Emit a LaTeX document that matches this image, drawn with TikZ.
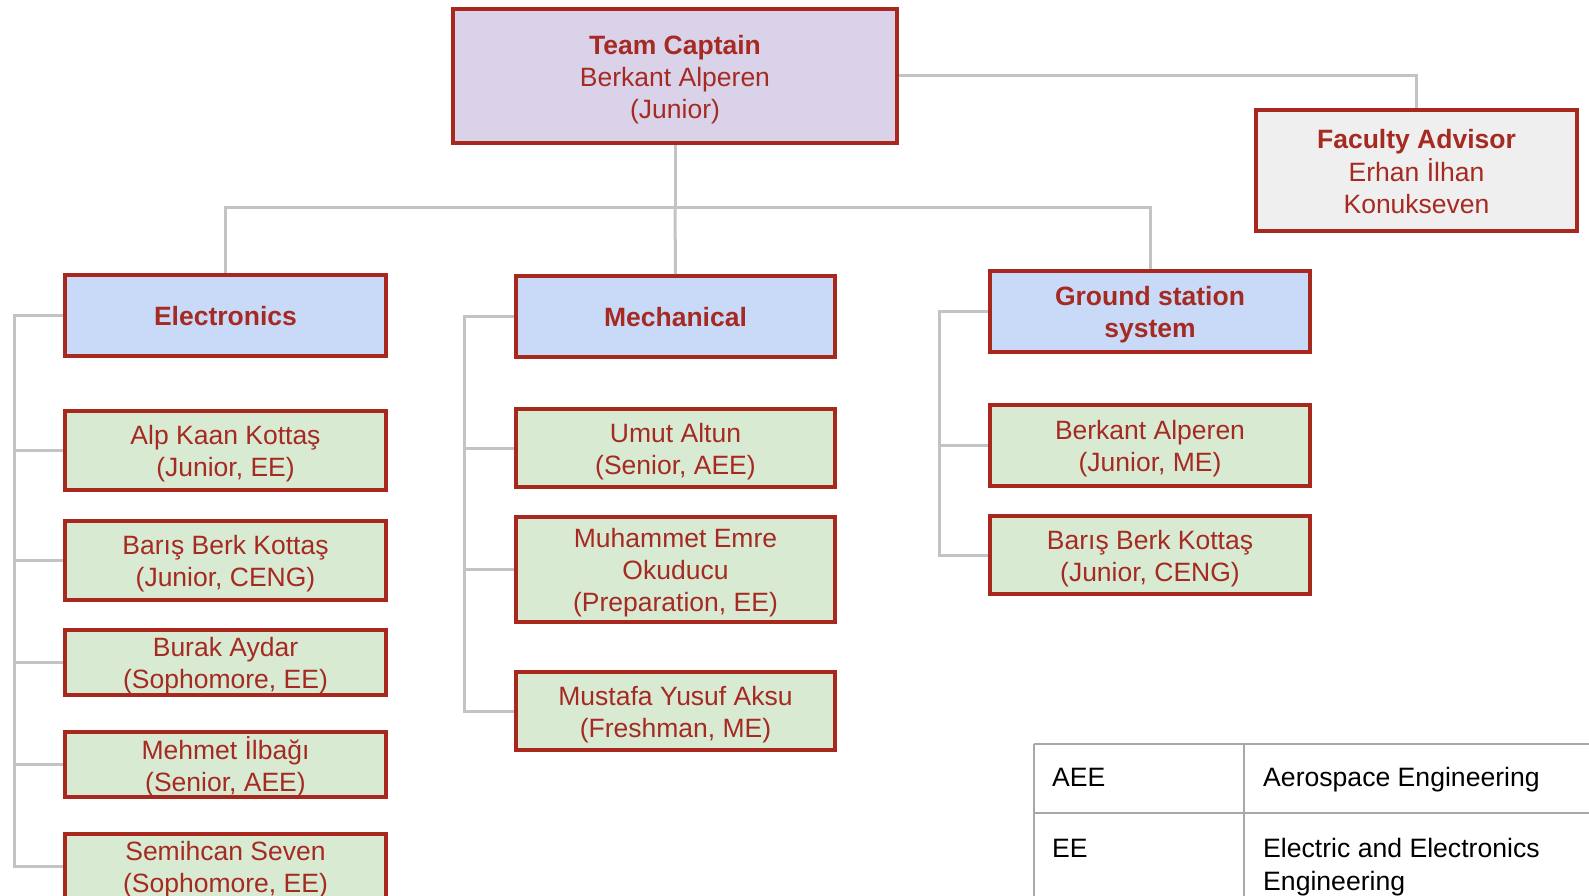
\documentclass[tikz,border=0pt]{standalone}
\usepackage{fontspec}
\setmainfont{Liberation Sans}
\definecolor{bord}{HTML}{A8281E}
\definecolor{txtc}{HTML}{A52A22}
\definecolor{capfill}{HTML}{D9D2E9}
\definecolor{facfill}{HTML}{EFEFEF}
\definecolor{deptfill}{HTML}{C9DAF8}
\definecolor{memfill}{HTML}{D9EAD3}
\definecolor{connc}{HTML}{C3C3C3}
\definecolor{tabline}{HTML}{A8A8A8}
\newcommand{\fsz}{\fontsize{26.5}{32}\selectfont}
\newcommand{\tabsz}{\fontsize{26.6}{32}\selectfont}
\newcommand{\bx}[1]{\raisebox{0pt}[\dimexpr\height+4pt\relax][\dimexpr\depth-4pt\relax]{\begin{tabular}{@{}c@{}}#1\end{tabular}}}
\begin{document}
\begin{tikzpicture}[x=1pt,y=-1pt,
  box/.style={draw=bord, line width=4pt, text=txtc, font=\fsz, inner sep=0pt, minimum width=#1},
  box/.default=321pt,
  capbox/.style={box=444pt, fill=capfill},
  facbox/.style={box=321pt, fill=facfill},
  deptbox/.style={box=321pt, fill=deptfill, font=\fsz\bfseries},
  membox/.style={box=321pt, fill=memfill},
  conn/.style={draw=connc, line width=3pt},
  tabl/.style={draw=tabline, line width=1.6pt},
  tabtxt/.style={font=\tabsz, text=black, inner sep=0pt, anchor=base west}
]
\useasboundingbox (0,0) rectangle (1589,896);
\clip (0,0) rectangle (1589,896);

\coordinate (j) at (675,207);
\coordinate (eb) at (14,0);
\coordinate (mb) at (464,0);
\coordinate (gb) at (939,0);

% top level
\node[capbox, minimum height=134pt] (cap) at (675,76) {\bx{\textbf{Team Captain}\\Berkant Alperen\\(Junior)}};
\node[facbox, minimum height=121pt] (fac) at (1416.5,170.5) {\bx{\textbf{Faculty Advisor}\\Erhan İlhan\\Konukseven}};

% departments
\node[deptbox, minimum height=81pt] (elec) at (225.5,315.5) {\bx{Electronics}};
\node[deptbox, minimum width=319pt, minimum height=81pt] (mech) at (675.5,316.5) {\bx{Mechanical}};
\node[deptbox, minimum width=320pt, minimum height=81pt] (gs) at (1150,311.5) {\bx{Ground station\\system}};

% electronics members
\node[membox, minimum height=79pt] (e1) at (225.5,450.5) {\bx{Alp Kaan Kottaş\\(Junior, EE)}};
\node[membox, minimum height=79pt] (e2) at (225.5,560.5) {\bx{Barış Berk Kottaş\\(Junior, CENG)}};
\node[membox, minimum height=65pt] (e3) at (225.5,662.5) {\bx{Burak Aydar\\(Sophomore, EE)}};
\node[membox, minimum height=65pt] (e4) at (225.5,764.5) {\bx{Mehmet İlbağı\\(Senior, AEE)}};
\node[membox, minimum height=65pt] (e5) at (225.5,866.5) {\bx{Semihcan Seven\\(Sophomore, EE)}};

% mechanical members
\node[membox, minimum width=319pt, minimum height=78pt] (m1) at (675.5,448) {\bx{Umut Altun\\(Senior, AEE)}};
\node[membox, minimum width=319pt, minimum height=105pt] (m2) at (675.5,569.5) {\bx{Muhammet Emre\\Okuducu\\(Preparation, EE)}};
\node[membox, minimum width=319pt, minimum height=78pt] (m3) at (675.5,711) {\bx{Mustafa Yusuf Aksu\\(Freshman, ME)}};

% ground station members
\node[membox, minimum width=320pt, minimum height=81pt] (g1) at (1150,445.5) {\bx{Berkant Alperen\\(Junior, ME)}};
\node[membox, minimum width=320pt, minimum height=78pt] (g2) at (1150,555) {\bx{Barış Berk Kottaş\\(Junior, CENG)}};

% connectors
\draw[conn] (cap.east) -| (fac.north);
\draw[conn] (cap.south) -- (j);
\draw[conn] (j) -| (elec.north);
\draw[conn] (j) -| (gs.north);
\draw[conn] (j) -- (mech.north);
\foreach \m in {e1,e2,e3,e4,e5}{
  \draw[conn] (elec.west) -- (elec.west -| eb) |- (\m.west);
}
\foreach \m in {m1,m2,m3}{
  \draw[conn] (mech.west) -- (mech.west -| mb) |- (\m.west);
}
\foreach \m in {g1,g2}{
  \draw[conn] (gs.west) -- (gs.west -| gb) |- (\m.west);
}

% legend table
\coordinate (t1) at (1034,744);
\coordinate (t2) at (1244,744);
\coordinate (t3) at (1589,744);
\coordinate (t4) at (1034,813);
\coordinate (t5) at (1589,813);
\coordinate (t6) at (1034,900);
\coordinate (t7) at (1244,900);
\draw[tabl] (t1) -- (t3);
\draw[tabl] (t4) -- (t5);
\draw[tabl] (t1) -- (t6);
\draw[tabl] (t2) -- (t7);
\node[tabtxt] (a1) at (1052,786) {AEE};
\node[tabtxt] (a2) at (1263,786) {Aerospace Engineering};
\node[tabtxt] (b1) at (1052,857) {EE};
\node[tabtxt] (b2) at (1263,857) {Electric and Electronics};
\node[tabtxt] (b3) at (1263,890) {Engineering};
\end{tikzpicture}
\end{document}
